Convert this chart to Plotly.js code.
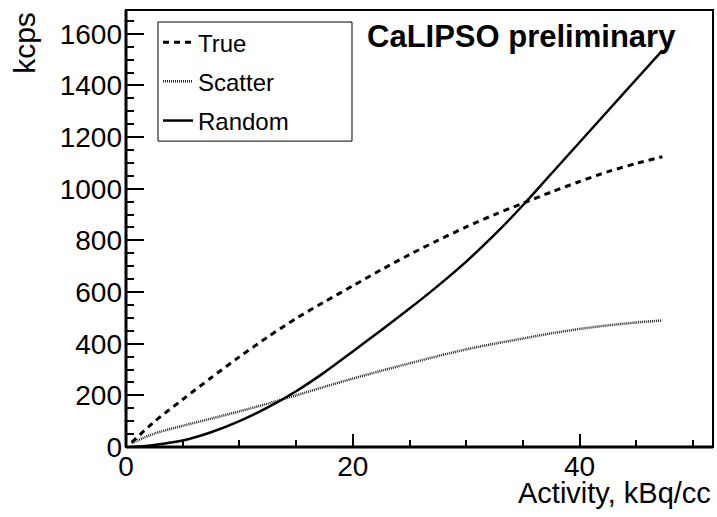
<!DOCTYPE html>
<html>
<head>
<meta charset="utf-8">
<script src="https://cdn.plot.ly/plotly-3.0.1.min.js"></script>
<style>html,body{margin:0;padding:0;background:#fff;}#chart{width:717px;height:517px;}</style>
</head>
<body>
<div id="chart"></div>
<script>
// Activity (kBq/cc)
const activity = [0.5, 2.5, 5, 7.5, 10, 12.5, 15, 17.5, 20, 22.5, 25, 27.5, 30, 32.5, 35, 37.5, 40, 42.5, 45, 47.3];
// kcps
const trueRate    = [18, 98, 184, 268, 349, 426, 498, 562, 624, 686, 745, 800, 852, 900, 944, 987, 1028, 1066, 1098, 1124];
const scatterRate = [15, 52, 82, 110, 138, 168, 200, 233, 265, 295, 324, 352, 378, 400, 420, 440, 457, 471, 482, 490];
const randomRate  = [0, 8, 25, 57, 100, 153, 216, 289, 370, 452, 536, 624, 718, 822, 936, 1058, 1180, 1302, 1424, 1536];

const seriesNames = ["True", "Scatter", "Random"];
const xTitle = "Activity, kBq/cc";
const yTitle = "kcps";
const label = "CaLIPSO preliminary";

const FONT = "Liberation Sans, Arial, Helvetica, sans-serif";

const traces = [
  {x: activity, y: trueRate, name: seriesNames[0], mode: "lines", legendgroup: "a",
   line: {color: "#000", width: 3, dash: "6px,5px", shape: "spline", smoothing: 0.8}},
  {x: activity, y: scatterRate, name: seriesNames[1], mode: "lines", legendgroup: "b",
   line: {color: "#222", width: 2.5, dash: "1px,1px", shape: "spline", smoothing: 0.8}},
  {x: activity, y: randomRate, name: seriesNames[2], mode: "lines", legendgroup: "c",
   line: {color: "#000", width: 2.5, shape: "spline", smoothing: 0.8}}
];

const layout = {
  width: 717, height: 517,
  margin: {l: 126, r: 4, t: 10, b: 70},
  paper_bgcolor: "#fff", plot_bgcolor: "#fff",
  font: {family: FONT, color: "#000", size: 28},
  showlegend: true,
  legend: {
    x: 0.0545, y: 0.977, xanchor: "left", yanchor: "top",
    bgcolor: "rgba(0,0,0,0)", borderwidth: 0,
    font: {family: FONT, size: 24, color: "#000"},
    traceorder: "grouped", tracegroupgap: 5
  },
  xaxis: {
    range: [0, 51.76], showgrid: false, zeroline: false, showline: false,
    ticks: "inside", tickcolor: "#000", tickwidth: 2, ticklen: 13,
    dtick: 20, tick0: 0,
    tickfont: {family: FONT, size: 28, color: "#000"},
    minor: {ticks: "inside", dtick: 5, ticklen: 7, tickwidth: 2, tickcolor: "#000", showgrid: false}
  },
  yaxis: {
    range: [0, 1692], showgrid: false, zeroline: false, showline: false,
    ticks: "inside", tickcolor: "#000", tickwidth: 2, ticklen: 18,
    dtick: 200, tick0: 0, ticklabelstandoff: 3,
    tickfont: {family: FONT, size: 28, color: "#000"},
    minor: {ticks: "inside", dtick: 50, ticklen: 8, tickwidth: 2, tickcolor: "#000", showgrid: false}
  },
  shapes: [
    {type: "rect", xref: "paper", yref: "paper", x0: 0, x1: 1, y0: 0, y1: 1,
     line: {color: "#000", width: 2}, fillcolor: "rgba(0,0,0,0)", layer: "above"},
    {type: "line", xref: "paper", yref: "paper", x0: 0, x1: 1, y0: 0, y1: 0,
     line: {color: "#000", width: 3}, layer: "above"},
    {type: "line", xref: "paper", yref: "paper", x0: 0, x1: 0, y0: 0, y1: 1,
     line: {color: "#000", width: 3}, layer: "above"},
    {type: "rect", xref: "paper", yref: "paper", x0: 0.0545, x1: 0.385, y0: 0.700, y1: 0.9725,
     line: {color: "#000", width: 1}, fillcolor: "#fff", layer: "below"}
  ],
  annotations: [
    {text: "<b>" + label + "</b>", xref: "paper", yref: "paper", x: 0.408, y: 0.9405,
     xanchor: "left", yanchor: "middle", showarrow: false,
     font: {family: FONT, size: 31, color: "#000"}},
    {text: xTitle, xref: "paper", yref: "paper", x: 1.0, y: -0.063,
     xanchor: "right", yanchor: "top", showarrow: false,
     font: {family: FONT, size: 29, color: "#000"}},
    {text: yTitle, xref: "paper", yref: "paper", x: -0.174, y: 1.0,
     xanchor: "center", yanchor: "top", showarrow: false, textangle: -90,
     font: {family: FONT, size: 30, color: "#000"}}
  ]
};

Plotly.newPlot("chart", traces, layout, {displayModeBar: false, staticPlot: true});
</script>
</body>
</html>
